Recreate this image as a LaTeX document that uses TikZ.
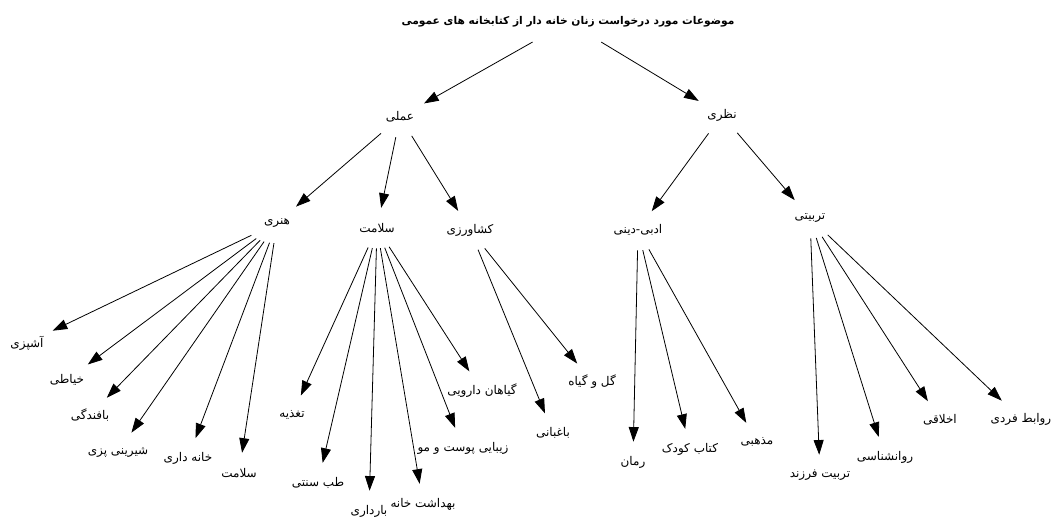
\documentclass[tikz,border=0pt]{standalone}
\usepackage{fontspec}
\usetikzlibrary{arrows.meta,shapes.geometric}
\TeXXeTstate=1
\newfontfamily\fafont[Script=Arabic]{DejaVu Sans}
\tikzset{
  topic/.style={ellipse, inner sep=1pt, minimum width=48pt, minimum height=30pt,
    font=\fafont\fontsize{9}{11}\selectfont,
    execute at begin node=\beginR, execute at end node=\endR},
  link/.style={-{Triangle[length=11pt,width=7.5pt]}, line width=0.6pt}
}
\begin{document}
\begin{tikzpicture}[x=0.75pt, y=-0.75pt]
   \useasboundingbox (0,0) rectangle (1054,517);
   \node[topic, font=\fafont\bfseries\fontsize{8}{10}\selectfont] (root) at (568,22) {موضوعات مورد درخواست زنان خانه دار از کتابخانه های عمومی};
   \node[topic] (amali) at (400,117) {عملی};
   \node[topic] (nazari) at (722,115) {نظری};
   \node[topic] (honari) at (277,223) {هنری};
   \node[topic] (salamat) at (377,228) {سلامت};
   \node[topic] (keshavarzi) at (470,230) {کشاورزی};
   \node[topic] (adabi) at (638,230) {ادبی-دینی};
   \node[topic] (tarbiati) at (810,218) {تربیتی};
   \node[topic] (ashpazi) at (27,343) {آشپزی};
   \node[topic] (khayati) at (67,380) {خیاطی};
   \node[topic] (bafandegi) at (90,415) {بافندگی};
   \node[topic] (shirini) at (118,452) {شیرینی پزی};
   \node[topic] (khanedari) at (188,458) {خانه داری};
   \node[topic] (salamat2) at (239,473) {سلامت};
   \node[topic] (taghzie) at (292,415) {تغذیه};
   \node[topic] (teb) at (318,483) {طب سنتی};
   \node[topic] (bardari) at (369,511) {بارداری};
   \node[topic] (behdasht) at (423,504) {بهداشت خانه};
   \node[topic] (zibayi) at (463,448) {زیبایی پوست و مو};
   \node[topic] (giahan) at (482,391) {گیاهان دارویی};
   \node[topic] (baghbani) at (553,433) {باغبانی};
   \node[topic] (gol) at (592,382) {گل و گیاه};
   \node[topic] (roman) at (633,462) {رمان};
   \node[topic] (ketab) at (690,449) {کتاب کودک};
   \node[topic] (mazhabi) at (757,442) {مذهبی};
   \node[topic] (farzand) at (820,475) {تربیت فرزند};
   \node[topic] (ravan) at (885,457) {روانشناسی};
   \node[topic] (akhlaghi) at (940,420) {اخلاقی};
   \node[topic] (ravabet) at (1021,419) {روابط فردی};
   \draw[link] (root) -- (amali);
   \draw[link] (root) -- (nazari);
   \draw[link] (amali) -- (honari);
   \draw[link] (amali) -- (salamat);
   \draw[link] (amali) -- (keshavarzi);
   \draw[link] (nazari) -- (adabi);
   \draw[link] (nazari) -- (tarbiati);
   \foreach \leaf in {ashpazi,khayati,bafandegi,shirini,khanedari,salamat2}
     \draw[link] (honari) -- (\leaf);
   \foreach \leaf in {taghzie,teb,bardari,behdasht,zibayi,giahan}
     \draw[link] (salamat) -- (\leaf);
   \foreach \leaf in {baghbani,gol}
     \draw[link] (keshavarzi) -- (\leaf);
   \foreach \leaf in {roman,ketab,mazhabi}
     \draw[link] (adabi) -- (\leaf);
   \foreach \leaf in {farzand,ravan,akhlaghi,ravabet}
     \draw[link] (tarbiati) -- (\leaf);
  \end{tikzpicture}
\end{document}
